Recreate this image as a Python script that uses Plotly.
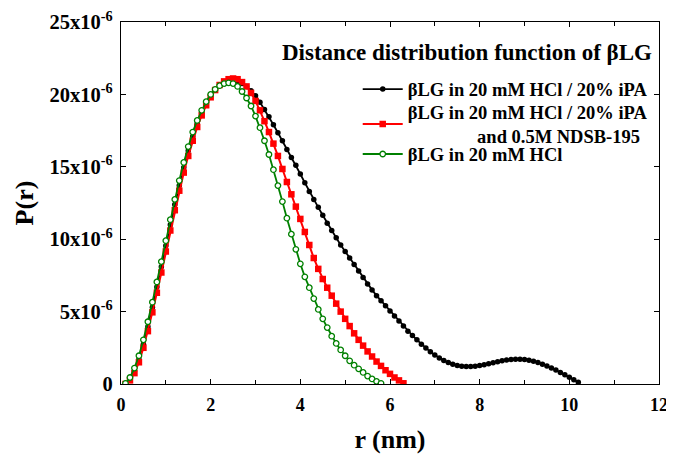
import plotly.graph_objects as go

# distance r (nm) and P(r) in units of 1e-6
r_ipa = [round(0.1 * i, 1) for i in range(1, 103)]
p_ipa = [
    0.0, 0.35, 0.9, 1.7, 2.75, 3.95, 5.3, 6.7, 8.1, 9.55,
    11.0, 12.4, 13.7, 14.95, 16.1, 17.1, 18.0, 18.75, 19.4, 19.9,
    20.3, 20.6, 20.8, 20.9, 20.95, 20.9, 20.75, 20.55, 20.25, 19.9,
    19.45, 18.95, 18.45, 17.9, 17.35, 16.8, 16.2, 15.65, 15.1, 14.5,
    13.9, 13.3, 12.75, 12.2, 11.65, 11.1, 10.6, 10.1, 9.6, 9.15,
    8.7, 8.25, 7.8, 7.35, 6.9, 6.5, 6.1, 5.75, 5.4, 5.05,
    4.7, 4.35, 4.0, 3.65, 3.35, 3.05, 2.75, 2.48, 2.22, 2.0,
    1.8, 1.62, 1.48, 1.37, 1.28, 1.23, 1.2, 1.2, 1.22, 1.27,
    1.33, 1.4, 1.47, 1.54, 1.6, 1.65, 1.69, 1.71, 1.71, 1.69,
    1.64, 1.57, 1.48, 1.37, 1.25, 1.11, 0.96, 0.8, 0.64, 0.47,
    0.3, 0.12,
]

r_ndsb = [round(0.1 * i, 1) for i in range(1, 64)]
p_ndsb = [
    0.0, 0.25, 0.75, 1.5, 2.5, 3.65, 4.95, 6.3, 7.7, 9.15,
    10.6, 12.0, 13.35, 14.6, 15.75, 16.8, 17.75, 18.55, 19.25, 19.8,
    20.3, 20.65, 20.9, 21.05, 21.1, 21.05, 20.85, 20.55, 20.1, 19.55,
    18.9, 18.15, 17.4, 16.6, 15.75, 14.85, 13.95, 13.1, 12.25, 11.4,
    10.5, 9.6, 8.7, 7.95, 7.25, 6.65, 6.1, 5.55, 5.0, 4.5,
    4.0, 3.5, 3.05, 2.65, 2.25, 1.9, 1.55, 1.25, 0.95, 0.7,
    0.45, 0.25, 0.05,
]

r_hcl = [round(0.1 * i, 1) for i in range(1, 59)]
p_hcl = [
    0.05, 0.45, 1.1, 1.95, 3.05, 4.3, 5.65, 7.05, 8.45, 9.9,
    11.35, 12.75, 14.05, 15.3, 16.4, 17.4, 18.2, 18.9, 19.5, 20.0,
    20.35, 20.6, 20.75, 20.8, 20.75, 20.55, 20.2, 19.75, 19.2, 18.5,
    17.7, 16.8, 15.85, 14.8, 13.7, 12.6, 11.45, 10.35, 9.3, 8.3,
    7.4, 6.65, 5.9, 5.15, 4.5, 3.9, 3.3, 2.8, 2.35, 1.95,
    1.6, 1.3, 1.05, 0.8, 0.55, 0.35, 0.18, 0.05,
]

y_ticks = [0, 5, 10, 15, 20, 25]
y_labels = ["0"] + [f"{v}x10<sup>-6</sup>" for v in y_ticks[1:]]
x_ticks = [0, 2, 4, 6, 8, 10, 12]

SERIF = "Liberation Serif"
nb = "\u00a0"

fig = go.Figure()
fig.add_trace(
    go.Scatter(
        name="βLG in 20 mM HCl / 20% iPA",
        x=r_ipa,
        y=p_ipa,
        mode="lines+markers",
        line=dict(color="black", width=1.8),
        marker=dict(symbol="circle", size=5.5, color="black"),
        legend="legend",
    )
)
fig.add_trace(
    go.Scatter(
        name="βLG in 20 mM HCl / 20% iPA<br>" + nb * 15 + "and 0.5M NDSB-195",
        x=r_ndsb,
        y=p_ndsb,
        mode="lines+markers",
        line=dict(color="red", width=2),
        marker=dict(symbol="square", size=6.5, color="red"),
        legend="legend2",
    )
)
fig.add_trace(
    go.Scatter(
        name="βLG in 20 mM HCl",
        x=r_hcl,
        y=p_hcl,
        mode="lines+markers",
        line=dict(color="green", width=1.8),
        marker=dict(
            symbol="circle", size=5.5, color="white",
            line=dict(color="green", width=1.3),
        ),
        legend="legend3",
    )
)

axis_common = dict(
    showline=True,
    linecolor="black",
    linewidth=1.2,
    mirror="ticks",
    ticks="inside",
    ticklen=5,
    tickcolor="black",
    showgrid=False,
    zeroline=False,
    automargin=False,
    ticklabeloverflow="allow",
)

fig.update_xaxes(
    range=[0, 12],
    tickvals=x_ticks,
    ticktext=[str(v) for v in x_ticks],
    tickfont=dict(family=SERIF, size=18, color="black", weight="bold"),
    ticklabelstandoff=4,
    minor=dict(dtick=1, ticks="inside", ticklen=4, tickcolor="black"),
    title=dict(
        text="r (nm)",
        font=dict(family=SERIF, size=26, color="black", weight="bold"),
        standoff=16,
    ),
    **axis_common,
)
fig.update_yaxes(
    range=[0, 25],
    tickvals=y_ticks,
    ticktext=y_labels,
    tickfont=dict(family=SERIF, size=20.5, color="black", weight="bold"),
    ticklabelstandoff=3,
    title=dict(
        text="P(r)",
        font=dict(family=SERIF, size=26, color="black", weight="bold"),
        standoff=8,
    ),
    **axis_common,
)

fig.add_annotation(
    text="Distance distribution function of βLG",
    xref="paper", yref="paper",
    x=0.644, y=0.915,
    xanchor="center", yanchor="middle",
    showarrow=False,
    font=dict(family=SERIF, size=23, color="black", weight="bold"),
)

legend_common = dict(
    x=0.44,
    xanchor="left", yanchor="top",
    bgcolor="rgba(0,0,0,0)",
    font=dict(family=SERIF, size=18.5, color="black", weight="bold"),
    itemwidth=40,
)

# the page body adds an 8 px offset, so the figure is 8 px smaller each way
fig.update_layout(
    width=666,
    height=446,
    margin=dict(l=113, r=15, t=14, b=70),
    plot_bgcolor="white",
    paper_bgcolor="white",
    showlegend=True,
    legend=dict(y=0.866, **legend_common),
    legend2=dict(y=0.8025, **legend_common),
    legend3=dict(y=0.6865, **legend_common),
)

fig.write_html("out.html")
